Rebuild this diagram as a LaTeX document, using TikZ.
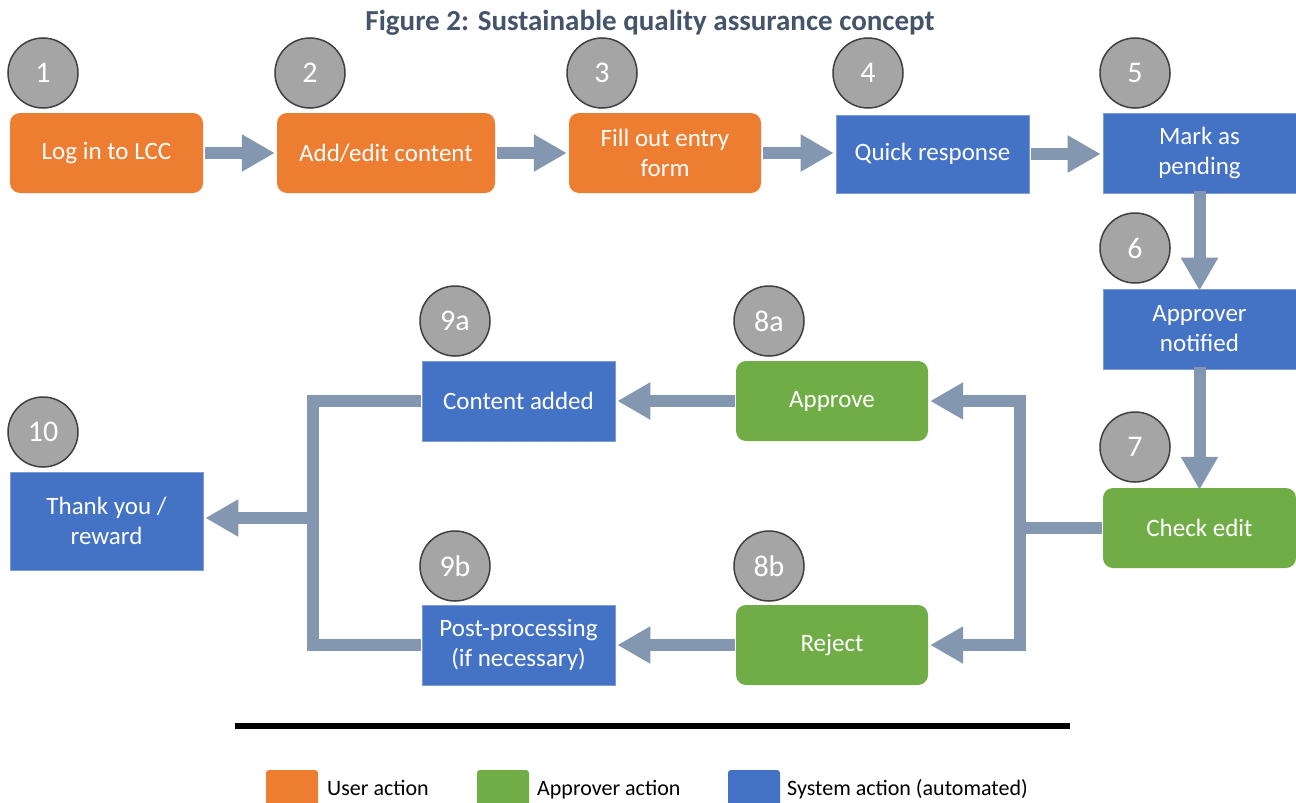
\documentclass[tikz,border=0pt]{standalone}
\usepackage{fontspec}
\setmainfont{Carlito}
\usetikzlibrary{arrows.meta}
\definecolor{useror}{HTML}{ED7D31}
\definecolor{apprgr}{HTML}{70AD47}
\definecolor{sysbl}{HTML}{4472C4}
\definecolor{stepgr}{HTML}{A5A5A5}
\definecolor{steprim}{HTML}{404040}
\definecolor{flowcol}{HTML}{8497B0}
\definecolor{titlecol}{HTML}{44546A}
\tikzset{
  box/.style={minimum width=193pt, minimum height=80pt, inner sep=0pt,
    text=white, align=center, font=\fontsize{25}{30}\selectfont},
  userbox/.style={box, fill=useror, rounded corners=10pt},
  apprbox/.style={box, fill=apprgr, rounded corners=10pt},
  sysbox/.style={box, fill=sysbl, draw=sysbl!70!white, line width=0.6pt},
  stepno/.style={circle, minimum size=70pt, inner sep=0pt, fill=stepgr,
    draw=steprim, line width=1.5pt, text=white, font=\fontsize{30}{32}\selectfont},
  flow/.style={draw=flowcol, line width=12pt, line cap=butt, line join=miter},
  flowarrow/.style={flow, -{Triangle[width=35pt,length=33pt]}},
  legendsq/.style={minimum width=52pt, minimum height=44pt, inner sep=0pt, rounded corners=3pt},
  legendtxt/.style={anchor=base west, inner sep=0pt, font=\fontsize{22}{24}\selectfont}
}
\begin{document}
\begin{tikzpicture}[x=1pt, y=-1pt]
\useasboundingbox[fill=white] (0,0) rectangle (1296,803);

% title
\node[text=titlecol, font=\fontsize{29}{32}\selectfont\bfseries] (title) at (650,23)
  {Figure 2: Sustainable quality assurance concept};

% process steps
\node[userbox] (login) at (106.5,153) {\raisebox{-3pt}{Log in to LCC}};
\node[userbox, minimum width=218pt] (addedit) at (386,153) {Add/edit content};
\node[userbox, minimum width=192pt] (fillout) at (665,153) {Fill out entry\\form};
\node[sysbox, minimum height=78pt] (quick) at (932.5,154) {\raisebox{-2pt}{Quick response}};
\node[sysbox] (pending) at (1199.5,153) {Mark as\\pending};
\node[sysbox] (notified) at (1199.5,329) {Approver\\notified};
\node[apprbox] (check) at (1199.5,528) {Check edit};
\node[apprbox, minimum width=192pt] (approve) at (832,401) {\raisebox{-2pt}{Approve}};
\node[sysbox] (added) at (518.5,401) {Content added};
\node[apprbox, minimum width=192pt] (reject) at (832,645) {\raisebox{-2pt}{Reject}};
\node[sysbox] (post) at (518.5,645) {Post-processing\\(if necessary)};
\node[sysbox, minimum height=98pt] (thanks) at (106.5,521) {Thank you /\\reward};

% step numbers
\node[stepno] (n1) at (43,73) {1};
\node[stepno] (n2) at (310,73) {2};
\node[stepno] (n3) at (602,73) {3};
\node[stepno] (n4) at (868,73) {4};
\node[stepno] (n5) at (1135,73) {5};
\node[stepno] (n6) at (1135,248) {6};
\node[stepno] (n7) at (1135,447) {7};
\node[stepno] (n9a) at (455,321) {9a};
\node[stepno] (n8a) at (769,321) {8a};
\node[stepno] (n10) at (43,432) {10};
\node[stepno] (n9b) at (455,566) {9b};
\node[stepno] (n8b) at (769,566) {8b};

% main flow
\draw[flowarrow] ([xshift=2pt]login.east) -- ([xshift=-2pt]addedit.west);
\draw[flowarrow] ([xshift=2pt]addedit.east) -- ([xshift=-2pt]fillout.west);
\draw[flowarrow] ([xshift=2pt]fillout.east) -- ([xshift=-2pt]fillout.east -| quick.west);
\draw[flowarrow] ([xshift=2pt]quick.east) -- ([xshift=-2pt]quick.east -| pending.west);
\draw[flowarrow] ([yshift=2pt]pending.south) -- ([yshift=-2pt]notified.north);
\draw[flowarrow] ([yshift=2pt]notified.south) -- ([yshift=-2pt]check.north);

% decision branches
\coordinate (split) at (1020,528);
\draw[flow] ([xshift=-1pt]check.west) -- (split);
\draw[flowarrow] (split) |- ([xshift=2pt]approve.east);
\draw[flowarrow] (split) |- ([xshift=2pt]reject.east);
\draw[flowarrow] ([xshift=-1pt]approve.west) -- ([xshift=2pt]added.east);
\draw[flowarrow] ([xshift=-1pt]reject.west) -- ([xshift=2pt]post.east);

% merge into the final step
\coordinate (mtop) at (313,401);
\coordinate (mbot) at (313,645);
\coordinate (merge) at (313,518);
\draw[flow] ([xshift=-1pt]added.west) -- (mtop) -- (mbot) -- ([xshift=-1pt]post.west);
\draw[flowarrow] (merge) -- ([xshift=2pt]merge -| thanks.east);

% separator and legend
\draw[line width=6pt] (235,726) coordinate (sepl) -- (1070,726) coordinate (sepr);
\node[legendsq, fill=useror] (lguser) at (292,792) {};
\node[legendtxt] (lgusertxt) at (327,795) {User action};
\node[legendsq, fill=apprgr] (lgappr) at (503,792) {};
\node[legendtxt] (lgapprtxt) at (537,795) {Approver action};
\node[legendsq, fill=sysbl] (lgsys) at (754,792) {};
\node[legendtxt] (lgsystxt) at (787,795) {System action (automated)};
\end{tikzpicture}
\end{document}
